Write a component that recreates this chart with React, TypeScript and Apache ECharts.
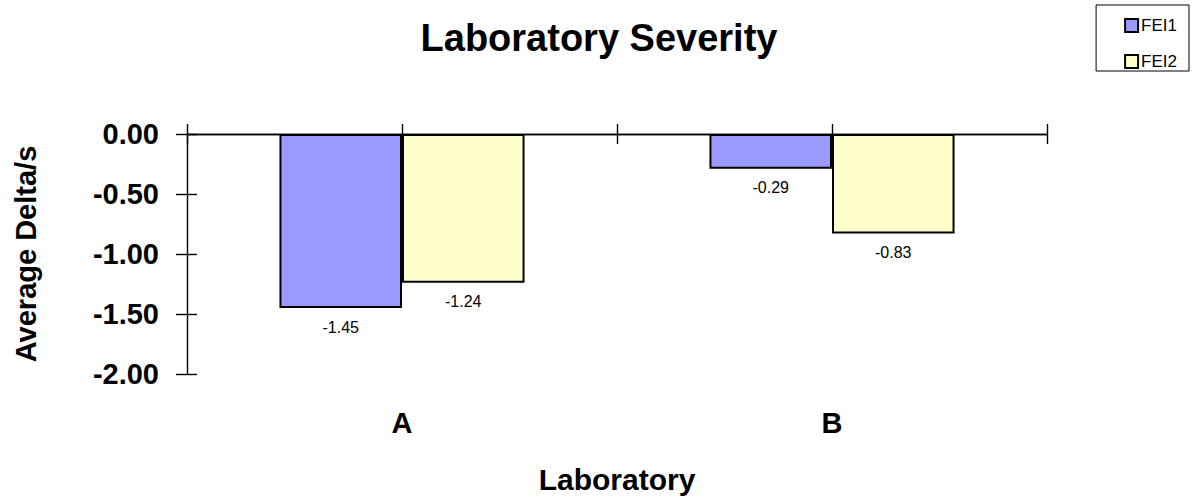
import React, { useEffect, useRef } from "react";
import * as echarts from "echarts";

const categories = ["A", "B"];
const seriesNames = ["FEI1", "FEI2"];
const fei1 = [-1.45, -0.29];
const fei2 = [-1.24, -0.83];
const yTicks = { min: -2, max: 0, interval: 0.5 };

const FONT = '"Liberation Sans", Arial, sans-serif';

export default function App() {
  const ref = useRef<HTMLDivElement>(null);
  useEffect(() => {
    if (!ref.current) return;
    const chart = echarts.init(ref.current, undefined, { renderer: "svg" });
    const barLabel = {
      show: true,
      position: "bottom",
      distance: 11,
      color: "#000",
      fontSize: 16,
      fontFamily: FONT,
      formatter: (p: any) => Number(p.value).toFixed(2),
    };
    const tickAxisBase = {
      type: "value",
      min: 0,
      max: 4,
      interval: 1,
      axisLabel: { show: false },
      splitLine: { show: false },
    };
    chart.setOption({
      animation: false,
      backgroundColor: "#fff",
      textStyle: { fontFamily: FONT },
      title: {
        text: "Laboratory Severity",
        left: "center",
        top: 19,
        padding: 0,
        textStyle: { fontSize: 38, fontWeight: "bold", color: "#000", fontFamily: FONT },
      },
      legend: {
        data: seriesNames,
        orient: "vertical",
        right: 9,
        top: 5,
        padding: [12, 12, 1, 28],
        itemGap: 19,
        itemWidth: 13,
        itemHeight: 13,
        icon: "rect",
        borderColor: "#000",
        borderWidth: 1,
        textStyle: { fontSize: 17, color: "#000", fontFamily: FONT, padding: [0, 0, 0, -2] },
      },
      grid: {
        left: 187,
        right: 151,
        top: 134,
        bottom: 126,
        containLabel: false,
        outerBoundsMode: "none",
      },
      xAxis: [
        {
          type: "category",
          data: categories,
          position: "bottom",
          axisLine: { show: false, onZero: false },
          axisTick: { show: false },
          axisLabel: { fontSize: 29, fontWeight: "bold", color: "#000", margin: 34, fontFamily: FONT },
          name: "Laboratory",
          nameLocation: "middle",
          nameGap: 90,
          nameTextStyle: { fontSize: 30, fontWeight: "bold", color: "#000", fontFamily: FONT },
        },
        {
          ...tickAxisBase,
          position: "top",
          axisLine: { show: true, onZero: false, lineStyle: { color: "#000", width: 1.4 } },
          axisTick: { show: true, length: 10, lineStyle: { color: "#000", width: 1.4 } },
        },
        {
          ...tickAxisBase,
          position: "bottom",
          axisLine: { show: true, onZero: true, lineStyle: { color: "#000", width: 1.4 } },
          axisTick: { show: true, length: 10, lineStyle: { color: "#000", width: 1.4 } },
        },
      ],
      yAxis: [
        {
          type: "value",
          ...yTicks,
          position: "left",
          axisLine: { show: true, onZero: false, lineStyle: { color: "#000", width: 1.4 } },
          axisTick: { show: true, length: 11, lineStyle: { color: "#000", width: 1.4 } },
          axisLabel: {
            fontSize: 29,
            fontWeight: "bold",
            color: "#000",
            margin: 28,
            fontFamily: FONT,
            formatter: (v: number) => v.toFixed(2),
          },
          splitLine: { show: false },
          name: "Average Delta/s",
          nameLocation: "middle",
          nameGap: 147,
          nameTextStyle: { fontSize: 29, fontWeight: "bold", color: "#000", fontFamily: FONT },
        },
        {
          type: "value",
          ...yTicks,
          position: "right",
          offset: -860,
          axisLine: { show: false, onZero: false },
          axisTick: { show: true, length: 10, lineStyle: { color: "#000", width: 1.4 } },
          axisLabel: { show: false },
          splitLine: { show: false },
        },
      ],
      series: [
        {
          name: seriesNames[0],
          type: "bar",
          data: fei1,
          xAxisIndex: 0,
          yAxisIndex: 0,
          barGap: "0%",
          barCategoryGap: "43%",
          itemStyle: { color: "#9999FF", borderColor: "#000", borderWidth: 2 },
          label: barLabel,
        },
        {
          name: seriesNames[1],
          type: "bar",
          data: fei2,
          xAxisIndex: 0,
          yAxisIndex: 0,
          barGap: "0%",
          barCategoryGap: "43%",
          itemStyle: { color: "#FFFFCC", borderColor: "#000", borderWidth: 2 },
          label: barLabel,
        },
      ],
    });
    return () => chart.dispose();
  }, []);
  return (
    <div
      ref={ref}
      style={{ position: "fixed", left: 0, top: 0, width: 1198, height: 500 }}
    />
  );
}
